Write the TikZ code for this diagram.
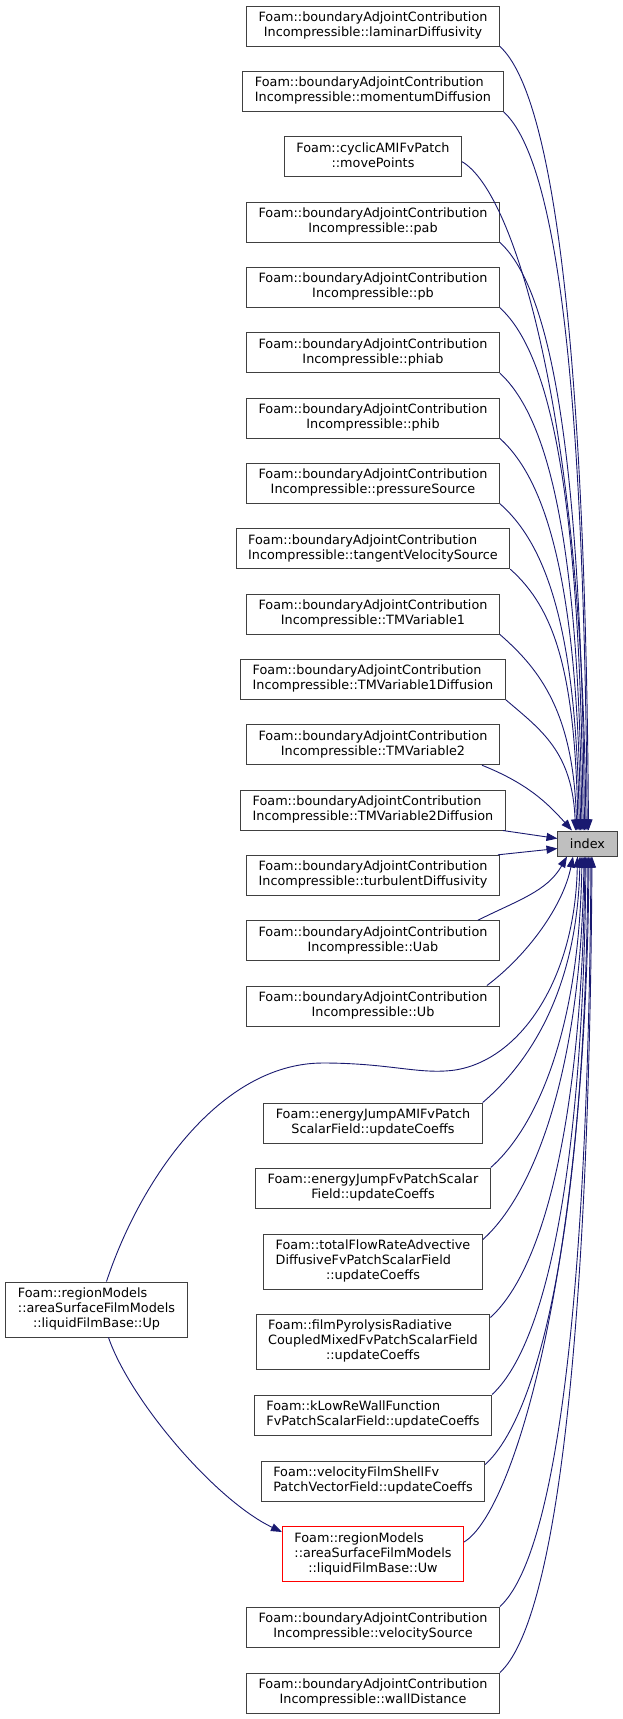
\documentclass[tikz,border=0pt]{standalone}
\usepackage{fontspec}
\setmainfont{DejaVu Sans}
\usetikzlibrary{arrows.meta}
\definecolor{edgec}{HTML}{191970}
\definecolor{boxc}{HTML}{404040}
\definecolor{idxfill}{HTML}{BFBFBF}
\newcommand{\twol}[2]{\begin{tabular}{@{}l@{}}#1\\\multicolumn{1}{@{}c@{}}{#2}\end{tabular}}
\newcommand{\thrl}[3]{\begin{tabular}{@{}l@{}}#1\\#2\\\multicolumn{1}{@{}c@{}}{#3}\end{tabular}}
\newcommand{\bac}{Foam::boundaryAdjointContribution}
\begin{document}
\begin{tikzpicture}[x=1pt,y=-1pt,
  fn/.style={draw=boxc, line width=1pt, fill=white, inner xsep=12pt, inner ysep=5pt,
    font=\fontsize{12.8pt}{15pt}\selectfont},
  redfn/.style={fn, draw=red},
  idx/.style={fn, fill=idxfill, minimum height=25pt},
  edge/.style={draw=edgec, line width=0.9pt, -{Triangle[length=11pt,width=8pt]}}]
\useasboundingbox[fill=white] (0,0) rectangle (623,1719);
% right column, upper
\node[fn] (n0) at (373,26) {\twol{\bac}{Incompressible::laminarDiffusivity}};
\node[fn] (n1) at (373,91.3) {\twol{\bac}{Incompressible::momentumDiffusion}};
\node[fn] (n2) at (373,156.7) {\twol{Foam::cyclicAMIFvPatch}{::movePoints}};
\node[fn] (n3) at (373,222) {\twol{\bac}{Incompressible::pab}};
\node[fn] (n4) at (373,287.3) {\twol{\bac}{Incompressible::pb}};
\node[fn] (n5) at (373,352.7) {\twol{\bac}{Incompressible::phiab}};
\node[fn] (n6) at (373,418) {\twol{\bac}{Incompressible::phib}};
\node[fn] (n7) at (373,483.3) {\twol{\bac}{Incompressible::pressureSource}};
\node[fn] (n8) at (373,548.7) {\twol{\bac}{Incompressible::tangentVelocitySource}};
\node[fn] (n9) at (373,614) {\twol{\bac}{Incompressible::TMVariable1}};
\node[fn] (n10) at (373,679.3) {\twol{\bac}{Incompressible::TMVariable1Diffusion}};
\node[fn] (n11) at (373,744.7) {\twol{\bac}{Incompressible::TMVariable2}};
\node[fn] (n12) at (373,810) {\twol{\bac}{Incompressible::TMVariable2Diffusion}};
\node[fn] (n13) at (373,875.3) {\twol{\bac}{Incompressible::turbulentDiffusivity}};
\node[fn] (n14) at (373,940.7) {\twol{\bac}{Incompressible::Uab}};
\node[fn] (n15) at (373,1006) {\twol{\bac}{Incompressible::Ub}};
% right column, lower
\node[fn] (e0) at (373,1123) {\twol{Foam::energyJumpAMIFvPatch}{ScalarField::updateCoeffs}};
\node[fn] (e1) at (373,1188) {\twol{Foam::energyJumpFvPatchScalar}{Field::updateCoeffs}};
\node[fn] (e2) at (373,1261.5) {\thrl{Foam::totalFlowRateAdvective}{DiffusiveFvPatchScalarField}{::updateCoeffs}};
\node[fn] (e3) at (373,1341.5) {\thrl{Foam::filmPyrolysisRadiative}{CoupledMixedFvPatchScalarField}{::updateCoeffs}};
\node[fn] (e4) at (373,1415) {\twol{Foam::kLowReWallFunction}{FvPatchScalarField::updateCoeffs}};
\node[fn] (e5) at (373,1481) {\twol{Foam::velocityFilmShellFv}{PatchVectorField::updateCoeffs}};
\node[redfn] (uw) at (373,1554) {\thrl{Foam::regionModels}{::areaSurfaceFilmModels}{::liquidFilmBase::Uw}};
\node[fn] (e6) at (373,1627) {\twol{\bac}{Incompressible::velocitySource}};
\node[fn] (e7) at (373,1693) {\twol{\bac}{Incompressible::wallDistance}};
% left
\node[fn] (up) at (96.5,1309.5) {\thrl{Foam::regionModels}{::areaSurfaceFilmModels}{::liquidFilmBase::Up}};
% target
\node[idx] (index) at (587.5,843.5) {index};
% upper edges
\draw[edge] (n0.south east) .. controls +(55,50) and +(-3,-471) .. ([xshift=1pt]index.north);
\draw[edge] (n1.south east) .. controls +(55,50) and +(-3,-432) .. ([xshift=-0.3pt]index.north);
\draw[edge] ([yshift=-5pt]n2.east) .. controls +(55,32) and +(-3,-402) .. ([xshift=-1.6pt]index.north);
\draw[edge] (n3.south east) .. controls +(55,50) and +(-3,-353) .. ([xshift=-3pt]index.north);
\draw[edge] (n4.south east) .. controls +(55,50) and +(-3,-314) .. ([xshift=-4.3pt]index.north);
\draw[edge] (n5.south east) .. controls +(52,48) and +(-3,-275) .. ([xshift=-5.6pt]index.north);
\draw[edge] (n6.south east) .. controls +(50,45) and +(-3,-236) .. ([xshift=-6.9pt]index.north);
\draw[edge] (n7.south east) .. controls +(48,42) and +(-3,-197) .. ([xshift=-8.2pt]index.north);
\draw[edge] (n8.south east) .. controls +(45,40) and +(-3,-157) .. ([xshift=-9.5pt]index.north);
\draw[edge] (n9.south east) .. controls +(40,35) and +(-3,-118) .. ([xshift=-10.8pt]index.north);
\draw[edge] (n10.south east) .. controls +(35,30) and +(-3,-79) .. ([xshift=-12pt]index.north);
\draw[edge] ([xshift=-18pt]n11.south east) .. controls +(45,18) and +(-25,-28) .. ([xshift=-15.5pt]index.north);
\draw[edge] ([xshift=-3pt]n12.south east) -- ([yshift=5pt]index.west);
\draw[edge] ([xshift=-2pt]n13.north east) -- ([yshift=-5pt]index.west);
\draw[edge] ([xshift=-22pt]n14.north east) .. controls +(40,-20) and +(-20,35) .. ([xshift=-20.5pt]index.south);
\draw[edge] ([xshift=-13pt]n15.north east) .. controls +(40,-30) and +(-10,50) .. ([xshift=-14.5pt]index.south);
% Up edges
\draw[edge] ([xshift=10pt]up.north) .. controls (140,1180) and (220,1063) .. (323,1063)
  .. controls (390,1063) and (420,1075) .. (455,1070)
  .. controls (520,1060) and (575,980) .. ([xshift=-10pt]index.south);
\draw[edge] ([xshift=12pt]up.south) .. controls (130,1400) and (215,1500) .. ([yshift=-6pt]uw.north west);
% lower edges
\draw[edge] (e0.north east) .. controls +(35,-30) and +(-3,148) .. ([xshift=-7.5pt]index.south);
\draw[edge] (e1.north east) .. controls +(40,-35) and +(-3,187) .. ([xshift=-5.5pt]index.south);
\draw[edge] ([yshift=-6pt]e2.north east) .. controls +(45,-40) and +(-3,230) .. ([xshift=-3.5pt]index.south);
\draw[edge] ([yshift=-4pt]e3.north east) .. controls +(50,-45) and +(-3,277) .. ([xshift=-2.5pt]index.south);
\draw[edge] (e4.north east) .. controls +(52,-48) and +(-3,323) .. ([xshift=-1.5pt]index.south);
\draw[edge] ([yshift=-4pt]e5.north east) .. controls +(55,-50) and +(-3,365) .. ([xshift=0.5pt]index.south);
\draw[edge] ([yshift=12pt]uw.east) .. controls +(50,-30) and +(-3,412) .. ([xshift=1.5pt]index.south);
\draw[edge] (e6.north east) .. controls +(55,-50) and +(-3,451) .. ([xshift=3.5pt]index.south);
\draw[edge] (e7.north east) .. controls +(55,-50) and +(-3,490) .. ([xshift=4.5pt]index.south);
\end{tikzpicture}
\end{document}
